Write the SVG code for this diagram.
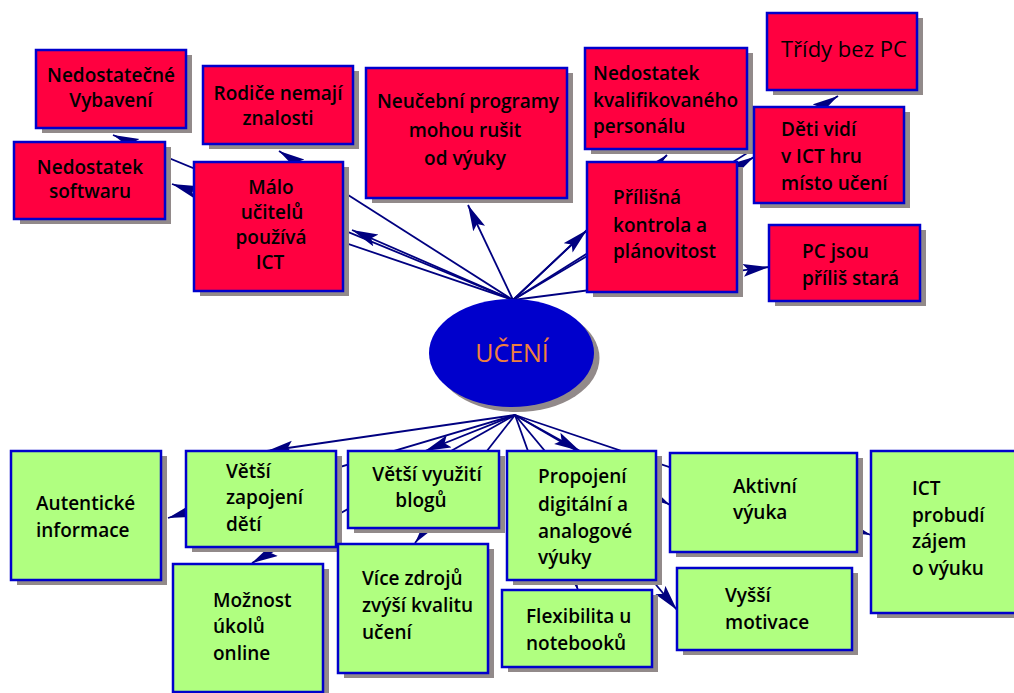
<svg xmlns="http://www.w3.org/2000/svg" width="1014" height="693" viewBox="0 0 1014 693">
<style>
.sh{fill:#928a8a}
.r{fill:#ff0040;stroke:#0000cc;stroke-width:2.5}
.g{fill:#b0ff80;stroke:#0000cc;stroke-width:2.5}
.t{font-family:"Open Sans","DejaVu Sans",sans-serif;font-weight:600;font-size:19px;fill:#000}
.tl{font-family:"Open Sans","DejaVu Sans",sans-serif;font-weight:400;font-size:22px;fill:#000}
.c{text-anchor:middle}
.ln{stroke:#000080;stroke-width:1.8;fill:none;marker-end:url(#ah)}
</style>
<defs>
<marker id="ah" markerUnits="userSpaceOnUse" markerWidth="28" markerHeight="14" refX="26" refY="6.5" orient="auto">
<path d="M0,0 L26,6.5 L0,13 L5,6.5 z" fill="#000080"/>
</marker>
</defs>
<rect width="1014" height="693" fill="#fff"/>
<g id="connectors">
<line class="ln" x1="513" y1="300" x2="113" y2="135"/>
<line class="ln" x1="513" y1="300" x2="172" y2="184"/>
<line class="ln" x1="513" y1="300" x2="279" y2="151"/>
<line class="ln" x1="513" y1="300" x2="352" y2="230"/>
<line class="ln" x1="513" y1="300" x2="468" y2="205"/>
<line class="ln" x1="513" y1="300" x2="587" y2="230"/>
<line class="ln" x1="513" y1="300" x2="667" y2="155"/>
<line class="ln" x1="513" y1="300" x2="754" y2="157"/>
<line class="ln" x1="513" y1="300" x2="838" y2="96"/>
<line class="ln" x1="513" y1="300" x2="769" y2="267"/>
<line class="ln" x1="515" y1="415" x2="267" y2="451"/>
<line class="ln" x1="515" y1="415" x2="425" y2="451"/>
<line class="ln" x1="515" y1="415" x2="168" y2="518"/>
<line class="ln" x1="515" y1="415" x2="252" y2="563"/>
<line class="ln" x1="515" y1="415" x2="415" y2="543"/>
<line class="ln" x1="515" y1="415" x2="580" y2="451"/>
<line class="ln" x1="515" y1="415" x2="670" y2="505"/>
<line class="ln" x1="515" y1="415" x2="871" y2="535"/>
<line class="ln" x1="515" y1="415" x2="578" y2="590"/>
<line class="ln" x1="515" y1="415" x2="677" y2="610"/>
</g>
<g id="center">
<ellipse class="sh" cx="517" cy="358" rx="82.5" ry="54"/>
<ellipse cx="511.5" cy="353" rx="82.5" ry="54" fill="#0000cc"/>
<text x="512" y="362" text-anchor="middle" font-family="Open Sans, DejaVu Sans, sans-serif" font-size="25" fill="#f0803c">UČENÍ</text>
</g>
<g id="n-vybaveni">
<rect class="sh" x="42" y="55" width="150" height="78"/>
<rect class="r" x="36" y="50" width="150" height="78"/>
<text class="t c" x="111"><tspan x="111" y="82">Nedostatečné</tspan><tspan x="111" y="107">Vybavení</tspan></text>
</g>
<g id="n-rodice">
<rect class="sh" x="209" y="71" width="150" height="78"/>
<rect class="r" x="203" y="66" width="150" height="78"/>
<text class="t c"><tspan x="278" y="100">Rodiče nemají</tspan><tspan x="278" y="125">znalosti</tspan></text>
</g>
<g id="n-software">
<rect class="sh" x="20" y="147" width="151" height="77"/>
<rect class="r" x="14" y="142" width="151" height="77"/>
<text class="t c"><tspan x="90" y="174">Nedostatek</tspan><tspan x="90" y="198">softwaru</tspan></text>
</g>
<g id="n-malo">
<rect class="sh" x="200" y="167" width="149" height="129"/>
<rect class="r" x="194" y="162" width="149" height="129"/>
<text class="t c"><tspan x="271" y="194">Málo</tspan><tspan x="272" y="219">učitelů</tspan><tspan x="271" y="244">používá</tspan><tspan x="270" y="269">ICT</tspan></text>
</g>
<g id="n-neucebni">
<rect class="sh" x="372" y="73" width="201" height="130"/>
<rect class="r" x="366" y="68" width="201" height="130"/>
<text class="t c"><tspan x="468" y="108">Neučební programy</tspan><tspan x="465" y="137">mohou rušit</tspan><tspan x="465" y="165">od výuky</tspan></text>
</g>
<g id="n-personal">
<rect class="sh" x="591" y="53" width="162" height="101"/>
<rect class="r" x="585" y="48" width="162" height="101"/>
<text class="t"><tspan x="593" y="80">Nedostatek</tspan><tspan x="593" y="107">kvalifikovaného</tspan><tspan x="593" y="133">personálu</tspan></text>
</g>
<g id="n-tridy">
<rect class="sh" x="773" y="18" width="150" height="77"/>
<rect class="r" x="767" y="13" width="150" height="77"/>
<text class="tl" x="781" y="57">Třídy bez PC</text>
</g>
<g id="n-deti">
<rect class="sh" x="760" y="112" width="150" height="96"/>
<rect class="r" x="754" y="107" width="150" height="96"/>
<text class="t"><tspan x="781" y="136">Děti vidí</tspan><tspan x="781" y="163">v ICT hru</tspan><tspan x="781" y="190">místo učení</tspan></text>
</g>
<g id="n-kontrola">
<rect class="sh" x="593" y="167" width="150" height="130"/>
<rect class="r" x="587" y="162" width="150" height="130"/>
<text class="t"><tspan x="613" y="204">Přílišná</tspan><tspan x="613" y="232">kontrola a</tspan><tspan x="613" y="258">plánovitost</tspan></text>
</g>
<g id="n-stara">
<rect class="sh" x="775" y="230" width="151" height="76"/>
<rect class="r" x="769" y="225" width="151" height="76"/>
<text class="t"><tspan x="802" y="258">PC jsou</tspan><tspan x="802" y="285">příliš stará</tspan></text>
</g>
<g id="n-autenticke">
<rect class="sh" x="17" y="456" width="150" height="129"/>
<rect class="g" x="11" y="451" width="150" height="129"/>
<text class="t"><tspan x="36" y="510">Autentické</tspan><tspan x="36" y="537">informace</tspan></text>
</g>
<g id="n-zapojeni">
<rect class="sh" x="192" y="456" width="150" height="96"/>
<rect class="g" x="186" y="451" width="150" height="96"/>
<text class="t"><tspan x="226" y="478">Větší</tspan><tspan x="226" y="504">zapojení</tspan><tspan x="226" y="531">dětí</tspan></text>
</g>
<g id="n-blogu">
<rect class="sh" x="354" y="456" width="151" height="77"/>
<rect class="g" x="348" y="451" width="151" height="77"/>
<text class="t c"><tspan x="427" y="481">Větší využití</tspan><tspan x="421" y="507">blogů</tspan></text>
</g>
<g id="n-online">
<rect class="sh" x="179" y="569" width="150" height="128"/>
<rect class="g" x="173" y="564" width="150" height="128"/>
<text class="t"><tspan x="213" y="607">Možnost</tspan><tspan x="213" y="633">úkolů</tspan><tspan x="213" y="660">online</tspan></text>
</g>
<g id="n-zdroje">
<rect class="sh" x="344" y="549" width="150" height="129"/>
<rect class="g" x="338" y="544" width="150" height="129"/>
<text class="t"><tspan x="362" y="585">Více zdrojů</tspan><tspan x="362" y="612">zvýší kvalitu</tspan><tspan x="362" y="639">učení</tspan></text>
</g>
<g id="n-propojeni">
<rect class="sh" x="513" y="456" width="149" height="129"/>
<rect class="g" x="507" y="451" width="149" height="129"/>
<text class="t"><tspan x="538" y="483">Propojení</tspan><tspan x="538" y="511">digitální a</tspan><tspan x="538" y="538">analogové</tspan><tspan x="538" y="564">výuky</tspan></text>
</g>
<g id="n-aktivni">
<rect class="sh" x="676" y="458" width="187" height="99"/>
<rect class="g" x="670" y="453" width="187" height="99"/>
<text class="t"><tspan x="733" y="493">Aktivní</tspan><tspan x="733" y="519">výuka</tspan></text>
</g>
<g id="n-zajem">
<rect class="sh" x="877" y="456" width="150" height="162"/>
<rect class="g" x="871" y="451" width="150" height="162"/>
<text class="t"><tspan x="912" y="495">ICT</tspan><tspan x="912" y="522">probudí</tspan><tspan x="912" y="548">zájem</tspan><tspan x="912" y="575">o výuku</tspan></text>
</g>
<g id="n-flexibilita">
<rect class="sh" x="508" y="595" width="150" height="77"/>
<rect class="g" x="502" y="590" width="150" height="77"/>
<text class="t"><tspan x="526" y="623">Flexibilita u</tspan><tspan x="526" y="650">notebooků</tspan></text>
</g>
<g id="n-motivace">
<rect class="sh" x="683" y="573" width="175" height="82"/>
<rect class="g" x="677" y="568" width="175" height="82"/>
<text class="t"><tspan x="725" y="602">Vyšší</tspan><tspan x="725" y="629">motivace</tspan></text>
</g>
</svg>
